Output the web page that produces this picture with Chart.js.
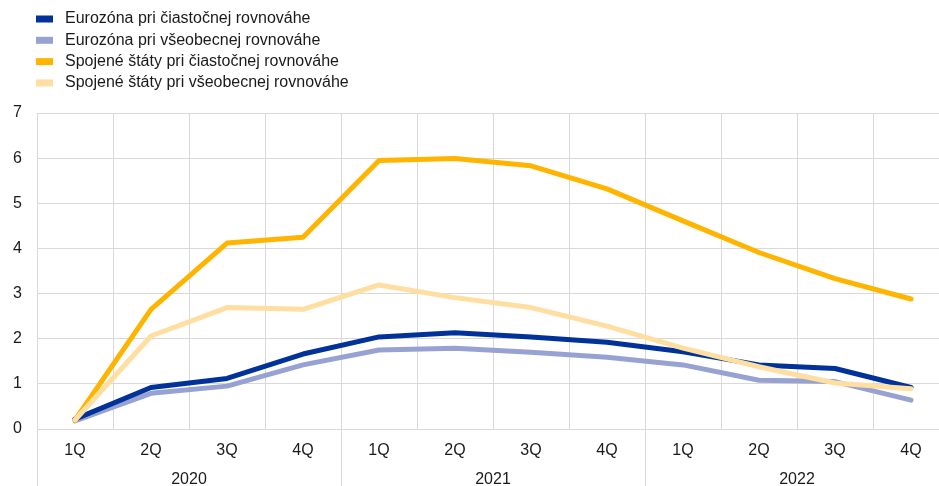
<!DOCTYPE html>
<html>
<head>
<meta charset="utf-8">
<script src="https://cdn.jsdelivr.net/npm/chart.js@4"></script>
<style>
  html, body { margin: 0; padding: 0; background: #fff; overflow: hidden; }
  #wrap { width: 939px; height: 486px; overflow: hidden; }
  #box { position: relative; width: 949px; height: 486px; }
</style>
</head>
<body>
<div id="wrap"><div id="box"><canvas id="c"></canvas></div></div>
<script>
// Quarters and years on the horizontal axis
const quarters = ['1Q', '2Q', '3Q', '4Q', '1Q', '2Q', '3Q', '4Q', '1Q', '2Q', '3Q', '4Q'];
const years = ['2020', '2021', '2022'];

// Series values (percent)
const euroPartial = [0.22, 0.92, 1.12, 1.66, 2.04, 2.13, 2.04, 1.92, 1.71, 1.42, 1.34, 0.92];
const euroGeneral = [0.18, 0.79, 0.95, 1.42, 1.75, 1.79, 1.70, 1.59, 1.42, 1.08, 1.05, 0.64];
const usPartial   = [0.20, 2.65, 4.12, 4.25, 5.95, 5.99, 5.83, 5.32, 4.61, 3.91, 3.33, 2.88];
const usGeneral   = [0.20, 2.06, 2.69, 2.65, 3.19, 2.91, 2.69, 2.28, 1.79, 1.38, 1.02, 0.89];

const seriesNames = [
  'Eurozóna pri čiastočnej rovnováhe',
  'Eurozóna pri všeobecnej rovnováhe',
  'Spojené štáty pri čiastočnej rovnováhe',
  'Spojené štáty pri všeobecnej rovnováhe'
];

const yTicks = [0, 1, 2, 3, 4, 5, 6, 7];

const FONT = '"Liberation Sans", Arial, sans-serif';
const SIZE = 16;
const TEXT = '#1a1a1a';
const GRID = '#d9d9d9';

// Legend stacked in one column above the plot
const stackedLegend = {
  id: 'stackedLegend',
  afterDraw(chart) {
    const ctx = chart.ctx;
    ctx.save();
    ctx.font = SIZE + 'px ' + FONT;
    ctx.textBaseline = 'middle';
    chart.data.datasets.forEach((ds, i) => {
      const y = 19 + i * 21.3;
      ctx.fillStyle = ds.borderColor;
      ctx.fillRect(36, y - 3.5, 17, 7);
      ctx.fillStyle = TEXT;
      ctx.fillText(ds.label, 65, y);
    });
    ctx.restore();
  }
};

// Year separators continue below the plot through both label rows
const yearSeparators = {
  id: 'yearSeparators',
  afterDraw(chart) {
    const x = chart.scales.x;
    const ctx = chart.ctx;
    const step = x.getPixelForValue(1) - x.getPixelForValue(0);
    ctx.save();
    ctx.strokeStyle = GRID;
    ctx.lineWidth = 1;
    for (let i = 0; i <= quarters.length; i += 4) {
      const px = Math.round(x.getPixelForValue(i) - step / 2) + 0.5;
      ctx.beginPath();
      ctx.moveTo(px, chart.chartArea.bottom);
      ctx.lineTo(px, chart.height);
      ctx.stroke();
    }
    ctx.restore();
  }
};

const mk = (label, data, color, order) => ({
  label, data, borderColor: color, backgroundColor: color, order,
  borderWidth: 5, pointRadius: 0, tension: 0,
  borderCapStyle: 'round', borderJoinStyle: 'round', fill: false
});

new Chart(document.getElementById('c'), {
  type: 'line',
  data: {
    labels: quarters,
    datasets: [
      mk(seriesNames[0], euroPartial, '#003299', 2),
      mk(seriesNames[1], euroGeneral, '#98a2d2', 3),
      mk(seriesNames[2], usPartial, '#ffb400', 1),
      mk(seriesNames[3], usGeneral, '#ffdea2', 0)
    ]
  },
  options: {
    responsive: true,
    maintainAspectRatio: false,
    animation: false,
    layout: { padding: { top: 113, left: 0, right: 0, bottom: 0 } },
    plugins: { legend: { display: false }, tooltip: { enabled: false } },
    scales: {
      y: {
        min: 0, max: 7,
        afterFit(s) { s.width = 37; },
        afterBuildTicks(s) { s.ticks = yTicks.map(v => ({ value: v })); },
        grid: { color: GRID, drawTicks: false },
        border: { color: GRID },
        ticks: { padding: 15, color: TEXT, font: { family: FONT, size: SIZE } }
      },
      x: {
        offset: true,
        afterFit(s) { s.height = 32; },
        grid: { offset: true, color: GRID, drawTicks: false },
        border: { color: GRID },
        ticks: { padding: 12.4, color: TEXT, font: { family: FONT, size: SIZE }, maxRotation: 0, autoSkip: false }
      },
      years: {
        type: 'category',
        labels: years,
        position: 'bottom',
        offset: true,
        afterFit(s) { s.height = 25; },
        grid: { display: false, drawTicks: false },
        border: { display: false },
        ticks: { padding: 9.2, color: TEXT, font: { family: FONT, size: SIZE }, maxRotation: 0 }
      }
    }
  },
  plugins: [stackedLegend, yearSeparators]
});
</script>
</body>
</html>
